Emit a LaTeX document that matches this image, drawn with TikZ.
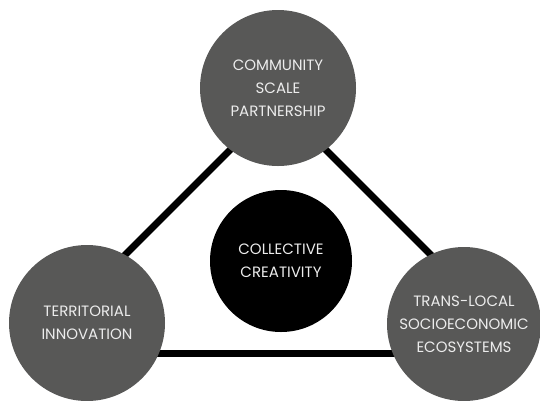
\documentclass[tikz,border=0pt]{standalone}
\usepackage{fontspec}
\setmainfont{Poppins}
\definecolor{circgray}{RGB}{88,88,87}
\definecolor{txtcol}{RGB}{236,236,236}
\begin{document}
\begin{tikzpicture}[x=1pt,y=-1pt,
  link/.style={line width=7pt,black,line cap=butt},
  bubble/.style={circle,fill=circgray,minimum size=156pt,inner sep=0pt,
    text=txtcol,align=center,font=\fontsize{15}{23}\selectfont},
  core/.style={circle,fill=black,minimum size=142pt,inner sep=0pt,
    text=txtcol,align=center,font=\fontsize{15}{23}\selectfont}]
\useasboundingbox (0,0) rectangle (540,400);
\coordinate (apex) at (278,102);
\coordinate (bl) at (27,353);
\coordinate (br) at (529,353);
\draw[link] (apex) -- (bl);
\draw[link] (apex) -- (br);
\draw[link] (bl) -- (br);
\node[bubble] (top) at (278,88) {COMMUNITY\\SCALE\\PARTNERSHIP};
\node[bubble] (left) at (87,323) {TERRITORIAL\\INNOVATION};
\node[bubble,minimum size=154pt] (right) at (464,324) {TRANS-LOCAL\\SOCIOECONOMIC\\ECOSYSTEMS};
\node[core] (center) at (281,261) {COLLECTIVE\\CREATIVITY};
\end{tikzpicture}
\end{document}
